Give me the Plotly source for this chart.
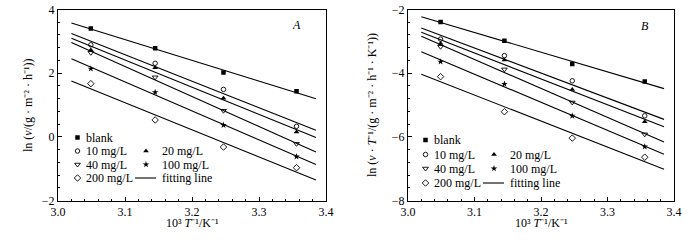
import numpy as np
import plotly.graph_objects as go

# ---------------- data ----------------
inv_T = [3.049, 3.145, 3.247, 3.356]          # 10^3 T^-1 / K^-1
series_names = ["blank", "10 mg/L", "20 mg/L", "40 mg/L", "100 mg/L", "200 mg/L"]

lnv_A = {
    "blank":    [3.40, 2.78, 2.02, 1.43],
    "10 mg/L":  [2.89, 2.31, 1.49, 0.33],
    "20 mg/L":  [2.73, 2.17, 1.21, 0.15],
    "40 mg/L":  [2.64, 1.87, 0.82, -0.22],
    "100 mg/L": [2.14, 1.40, 0.37, -0.62],
    "200 mg/L": [1.67, 0.53, -0.32, -0.97],
}
lnvT_B = {
    "blank":    [-2.39, -2.98, -3.71, -4.26],
    "10 mg/L":  [-2.93, -3.45, -4.24, -5.34],
    "20 mg/L":  [-3.07, -3.59, -4.51, -5.53],
    "40 mg/L":  [-3.17, -3.88, -4.92, -5.92],
    "100 mg/L": [-3.64, -4.34, -5.34, -6.31],
    "200 mg/L": [-4.11, -5.21, -6.04, -6.64],
}
fit_x_range = [3.02, 3.385]
x_ticks = [3.0, 3.1, 3.2, 3.3, 3.4]

# ---------------- styles ----------------
FONT = "Liberation Serif"
W, H = 700, 240
marker_style = {
    "blank":    dict(symbol="square", size=4.5, color="black", line=dict(width=0)),
    "10 mg/L":  dict(symbol="circle-open", size=4.5, color="black", line=dict(width=0.9)),
    "20 mg/L":  dict(symbol="triangle-up", size=5, color="black", line=dict(width=0)),
    "40 mg/L":  dict(symbol="triangle-down-open", size=5, color="black", line=dict(width=0.9)),
    "100 mg/L": dict(symbol="star", size=5, color="black", line=dict(width=0)),
    "200 mg/L": dict(symbol="diamond-open", size=5, color="black", line=dict(width=0.9)),
}

# pixel geometry of the two panels
pA = dict(l=58, r=326, t=9.5, b=200.5)
pB = dict(l=408, r=674, t=9.5, b=200.5)


def dom(p):
    return [p["l"] / W, p["r"] / W], [1 - p["b"] / H, 1 - p["t"] / H]


fig = go.Figure()

for data, xa, ya in [(lnv_A, "x", "y"), (lnvT_B, "x2", "y2")]:
    for name in series_names:
        y = data[name]
        k, b = np.polyfit(inv_T, y, 1)
        fx = np.array(fit_x_range)
        fig.add_trace(go.Scatter(x=fx, y=k * fx + b, mode="lines",
                                 line=dict(color="black", width=1.1),
                                 xaxis=xa, yaxis=ya, showlegend=False, hoverinfo="skip"))
        fig.add_trace(go.Scatter(x=inv_T, y=y, mode="markers", marker=marker_style[name],
                                 xaxis=xa, yaxis=ya, showlegend=False, hoverinfo="skip"))

# ---------------- custom legends (pixel overlay axis) ----------------
legend_layout = [
    (0, [137.5, 151, 164.5, 178]),
    (348, [140, 154.5, 168.5, 183]),
]
col1_marker_x, col1_text_x = 77.5, 84
col2_marker_x, col2_text_x = 146, 160
line_x0, line_x1 = 135, 156
col1 = ["blank", "10 mg/L", "40 mg/L", "200 mg/L"]
col2 = [None, "20 mg/L", "100 mg/L", "fitting line"]
txtfont = dict(family=FONT, size=12, color="black")

annotations = []
for ox, rows in legend_layout:
    for i, name in enumerate(col1):
        fig.add_trace(go.Scatter(x=[ox + col1_marker_x], y=[rows[i]], mode="markers",
                                 marker=marker_style[name], xaxis="x3", yaxis="y3",
                                 showlegend=False, hoverinfo="skip"))
        annotations.append(dict(x=ox + col1_text_x, y=rows[i], xref="x3", yref="y3", text=name,
                                showarrow=False, xanchor="left", yanchor="middle", font=txtfont))
    for i, name in enumerate(col2):
        if name is None:
            continue
        if name == "fitting line":
            fig.add_trace(go.Scatter(x=[ox + line_x0, ox + line_x1], y=[rows[i], rows[i]],
                                     mode="lines", line=dict(color="black", width=1.1),
                                     xaxis="x3", yaxis="y3", showlegend=False, hoverinfo="skip"))
        else:
            fig.add_trace(go.Scatter(x=[ox + col2_marker_x], y=[rows[i]], mode="markers",
                                     marker=marker_style[name], xaxis="x3", yaxis="y3",
                                     showlegend=False, hoverinfo="skip"))
        annotations.append(dict(x=ox + col2_text_x, y=rows[i], xref="x3", yref="y3", text=name,
                                showarrow=False, xanchor="left", yanchor="middle", font=txtfont))

# panel letters
annotations.append(dict(x=296, y=25, xref="x3", yref="y3", text="<i>A</i>", showarrow=False,
                        font=txtfont))
annotations.append(dict(x=645, y=26, xref="x3", yref="y3", text="<i>B</i>", showarrow=False,
                        font=txtfont))

# axis titles
xtitle = "10³ <i>T</i>⁻¹/K⁻¹"
for p in (pA, pB):
    annotations.append(dict(x=(p["l"] + p["r"]) / 2, y=223, xref="x3", yref="y3", text=xtitle,
                            showarrow=False, font=txtfont))
annotations.append(dict(x=28, y=105, xref="x3", yref="y3", textangle=-90, showarrow=False,
                        text="ln (<i>v</i>/(g · m⁻² · h⁻¹))", font=txtfont))
annotations.append(dict(x=372, y=105, xref="x3", yref="y3", textangle=-90, showarrow=False,
                        text="ln (<i>v</i> · <i>T</i>⁻¹/(g · m⁻² · h⁻¹ · K⁻¹))", font=txtfont))

axis_common = dict(showline=True, mirror=True, linecolor="black", linewidth=1,
                   ticks="inside", ticklen=4, tickwidth=1, tickcolor="black",
                   showgrid=False, zeroline=False, automargin=False,
                   tickfont=dict(family=FONT, size=12, color="black"))

xdA, ydA = dom(pA)
xdB, ydB = dom(pB)
fig.update_layout(
    width=W, height=H, margin=dict(l=0, r=0, t=0, b=0),
    paper_bgcolor="white", plot_bgcolor="rgba(0,0,0,0)",
    showlegend=False,
    xaxis=dict(domain=xdA, anchor="y", range=[3.0, 3.4], tickvals=x_ticks, tickformat=".1f",
               minor=dict(dtick=0.02, tick0=3.0, ticks="inside", ticklen=2, tickcolor="black"),
               **axis_common),
    yaxis=dict(domain=ydA, anchor="x", range=[-2, 4], dtick=2, tick0=0,
               minor=dict(dtick=0.4, tick0=0, ticks="inside", ticklen=2, tickcolor="black"),
               **axis_common),
    xaxis2=dict(domain=xdB, anchor="y2", range=[3.0, 3.4], tickvals=x_ticks, tickformat=".1f",
                minor=dict(dtick=0.02, tick0=3.0, ticks="inside", ticklen=2, tickcolor="black"),
                **axis_common),
    yaxis2=dict(domain=ydB, anchor="x2", range=[-8, -2], dtick=2, tick0=0,
                minor=dict(dtick=0.4, tick0=0, ticks="inside", ticklen=2, tickcolor="black"),
                **axis_common),
    xaxis3=dict(domain=[0, 1], anchor="y3", range=[0, W], visible=False, fixedrange=True),
    yaxis3=dict(domain=[0, 1], anchor="x3", range=[H, 0], visible=False, fixedrange=True),
    annotations=annotations,
)

fig.write_html(
    "out.html",
    config={"displayModeBar": False, "staticPlot": True},
    post_script="document.body.style.margin='0';document.body.style.overflow='hidden';",
)
